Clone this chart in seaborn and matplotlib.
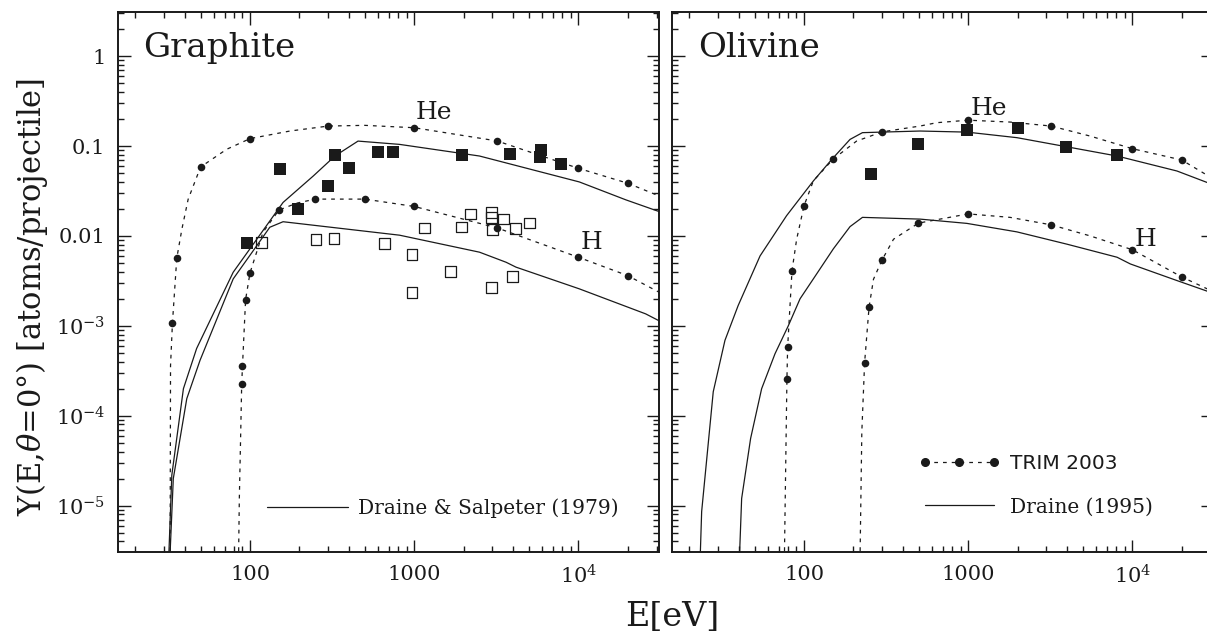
import numpy as np
import matplotlib
matplotlib.use("Agg")
import matplotlib.pyplot as plt
import seaborn as sns
from matplotlib.ticker import FixedLocator, FixedFormatter, LogLocator, NullFormatter
from matplotlib.lines import Line2D

# ---------------- data ----------------
# Graphite panel
gr_he_trim_E = [33.7, 35.8, 50, 100, 300, 1000, 3200, 10000, 20000]
gr_he_trim_Y = [1.08e-3, 5.65e-3, 0.0585, 0.121, 0.167, 0.160, 0.114, 0.0566, 0.0386]
gr_he_curve_E = [32.6, 32.8, 33.7, 35.8, 38.5, 42, 50, 72, 100, 175, 300, 500, 1000, 3200, 10000, 20000, 31000]
gr_he_curve_Y = [2e-6, 3.6e-4, 1.08e-3, 5.65e-3, 0.012, 0.0256, 0.0585, 0.092, 0.121, 0.147, 0.167, 0.170, 0.160, 0.114, 0.0566, 0.0386, 0.0279]

gr_h_trim_E = [89, 90, 94, 100, 150, 250, 500, 1000, 3200, 10000, 20000]
gr_h_trim_Y = [2.24e-4, 3.58e-4, 1.96e-3, 3.88e-3, 0.0194, 0.0257, 0.0257, 0.0213, 0.0123, 0.0058, 0.00362]
gr_h_curve_E = [85, 86.1, 87.8, 89, 90, 94, 100, 120, 150, 193, 250, 500, 1000, 3200, 10000, 20000, 31000]
gr_h_curve_Y = [2e-6, 1.2e-5, 6.6e-5, 2.24e-4, 3.58e-4, 1.96e-3, 3.88e-3, 0.011, 0.0194, 0.0232, 0.0257, 0.0257, 0.0213, 0.0123, 0.0058, 0.00362, 0.00237]

gr_he_exp_E = [96, 152, 195, 300, 330, 400, 600, 745, 1960, 3860, 5900, 5850, 7850]
gr_he_exp_Y = [0.0083, 0.0552, 0.0199, 0.0357, 0.0795, 0.0566, 0.0858, 0.0858, 0.0795, 0.0824, 0.0903, 0.0763, 0.0627]

gr_h_exp_E = [118, 252, 325, 662, 970, 970, 1160, 1670, 1950, 2200, 2970, 2970, 3010, 2970, 3500, 3990, 4140, 5020]
gr_h_exp_Y = [0.0084, 0.0091, 0.0093, 0.0083, 0.00625, 0.00237, 0.0123, 0.0040, 0.0126, 0.0175, 0.0181, 0.0161, 0.0119, 0.00269, 0.0154, 0.00353, 0.0122, 0.0139]

gr_he_ds_E = [31.8, 33.4, 39.3, 47.3, 79, 110, 159, 243, 329, 455, 815, 2500, 10140, 19500, 31000]
gr_he_ds_Y = [2e-6, 2.19e-5, 2.0e-4, 5.6e-4, 3.95e-3, 9.2e-3, 0.0236, 0.0465, 0.0775, 0.1136, 0.1044, 0.0775, 0.0399, 0.0252, 0.0187]
gr_h_ds_E = [32.3, 34.1, 41.2, 49.6, 79, 110, 132, 159, 815, 2500, 3630, 4170, 10140, 25700, 31000]
gr_h_ds_Y = [2e-6, 2.0e-5, 1.55e-4, 4.13e-4, 3.33e-3, 7.8e-3, 0.0125, 0.0144, 0.0102, 0.0066, 0.0051, 0.0045, 0.00258, 0.00136, 0.00114]

# Olivine panel
ol_he_trim_E = [78.7, 79.5, 84.5, 100, 150, 300, 1000, 3200, 10000, 20000]
ol_he_trim_Y = [2.57e-4, 5.8e-4, 4.1e-3, 0.0216, 0.0712, 0.144, 0.194, 0.167, 0.0935, 0.070]
ol_he_curve_E = [75.8, 78.7, 79.5, 84.5, 90.2, 100, 114, 150, 209, 300, 509, 644, 1000, 1800, 3200, 5550, 10000, 20000, 28600]
ol_he_curve_Y = [2e-6, 2.57e-4, 5.8e-4, 4.1e-3, 9.2e-3, 0.0216, 0.041, 0.0712, 0.1136, 0.144, 0.167, 0.182, 0.194, 0.185, 0.167, 0.129, 0.0935, 0.070, 0.0473]

ol_h_trim_E = [234, 249, 298, 498, 1000, 3200, 10000, 20000]
ol_h_trim_Y = [3.9e-4, 1.61e-3, 5.36e-3, 0.0139, 0.0176, 0.0133, 0.00703, 0.0035]
ol_h_curve_E = [219, 225, 234, 249, 265, 298, 351, 498, 1000, 1800, 3200, 5550, 10000, 20000, 28600]
ol_h_curve_Y = [2e-6, 6.6e-5, 3.9e-4, 1.61e-3, 3.3e-3, 5.36e-3, 9.2e-3, 0.0139, 0.0176, 0.0161, 0.0133, 0.010, 0.00703, 0.0035, 0.00258]

ol_he_exp_E = [255, 493, 982, 2020, 3950, 8070]
ol_he_exp_Y = [0.0486, 0.105, 0.150, 0.158, 0.0968, 0.0788]

ol_he_dr_E = [23.2, 23.8, 28, 33, 39.7, 54, 78.3, 114, 147.6, 190.7, 227, 509, 982, 1982, 3946, 8070, 18700, 28600]
ol_he_dr_Y = [2e-6, 8.6e-6, 1.85e-4, 6.9e-4, 1.68e-3, 6.0e-3, 0.0168, 0.0409, 0.071, 0.1186, 0.141, 0.147, 0.143, 0.124, 0.0985, 0.0775, 0.0528, 0.0393]
ol_h_dr_E = [40.2, 41.7, 47.3, 55.2, 66.6, 80.2, 94.6, 114, 151, 190.7, 227, 509, 982, 1982, 4000, 8070, 9730, 18700, 28600]
ol_h_dr_Y = [2e-6, 1.2e-5, 5.6e-5, 2.0e-4, 4.9e-4, 1.0e-3, 2.0e-3, 3.33e-3, 7.2e-3, 0.0127, 0.0161, 0.0154, 0.0138, 0.0111, 0.0081, 0.0058, 0.00488, 0.00319, 0.00243]

x_ticks = [100, 1000, 10000]
x_tick_labels = ["100", "1000", r"$10^4$"]
y_ticks = [1e-5, 1e-4, 1e-3, 1e-2, 1e-1, 1]
y_tick_labels = [r"$10^{-5}$", r"$10^{-4}$", r"$10^{-3}$", "0.01", "0.1", "1"]

# ---------------- style ----------------
sns.set_theme(style="ticks")
plt.rcParams["font.family"] = ["DejaVu Serif"]
plt.rcParams["mathtext.fontset"] = "dejavuserif"
for key in ["text.color", "axes.labelcolor", "xtick.color", "ytick.color", "axes.edgecolor"]:
    plt.rcParams[key] = "black"

DOT = (0, (3, 4))
LW = 0.9

fig = plt.figure(figsize=(12.07, 6.35), dpi=100)
axL = fig.add_axes([0.09776, 0.1307, 0.44822, 0.8504])
axR = fig.add_axes([0.55675, 0.1307, 0.44822, 0.8504])


def style_axes(ax, ylabels):
    ax.set_xscale("log")
    ax.set_yscale("log")
    ax.set_xlim(15.7, 31000)
    ax.set_ylim(3.05e-6, 3.1)
    ax.xaxis.set_major_locator(FixedLocator(x_ticks))
    ax.xaxis.set_major_formatter(FixedFormatter(x_tick_labels))
    ax.xaxis.set_minor_locator(LogLocator(base=10, subs=np.arange(2, 10), numticks=60))
    ax.xaxis.set_minor_formatter(NullFormatter())
    ax.yaxis.set_major_locator(FixedLocator(y_ticks))
    ax.yaxis.set_major_formatter(FixedFormatter(y_tick_labels))
    ax.yaxis.set_minor_locator(LogLocator(base=10, subs=np.arange(2, 10), numticks=60))
    ax.yaxis.set_minor_formatter(NullFormatter())
    ax.tick_params(which="both", direction="in", top=True, right=True,
                   color="k", labelcolor="k", width=1.0)
    ax.tick_params(which="major", length=9, labelsize=15, pad=9)
    ax.tick_params(which="minor", length=4.5)
    ax.tick_params(axis="y", labelleft=ylabels)
    for sp in ax.spines.values():
        sp.set_visible(True)
        sp.set_linewidth(1.4)
        sp.set_color("k")
    ax.set_xlabel("")
    ax.set_ylabel("")


def dotted(ax, E, Y):
    sns.lineplot(x=np.array(E), y=np.array(Y), ax=ax, color="k", lw=LW,
                 linestyle=DOT, sort=False, estimator=None, legend=False)


def solid(ax, E, Y):
    sns.lineplot(x=np.array(E), y=np.array(Y), ax=ax, color="k", lw=LW,
                 sort=False, estimator=None, legend=False)


def dots(ax, E, Y):
    sns.scatterplot(x=np.array(E), y=np.array(Y), ax=ax, marker="o", s=30,
                    color="k", linewidth=0, zorder=4, legend=False)


def filled_sq(ax, E, Y):
    sns.scatterplot(x=np.array(E), y=np.array(Y), ax=ax, marker="s", s=70,
                    color="k", linewidth=0, zorder=5, legend=False)


def open_sq(ax, E, Y):
    sns.scatterplot(x=np.array(E), y=np.array(Y), ax=ax, marker="s", s=60,
                    color="k", edgecolor="k", linewidth=0.9, zorder=5, legend=False)
    ax.collections[-1].set_facecolor("none")


# Graphite
dotted(axL, gr_he_curve_E, gr_he_curve_Y)
dotted(axL, gr_h_curve_E, gr_h_curve_Y)
solid(axL, gr_he_ds_E, gr_he_ds_Y)
solid(axL, gr_h_ds_E, gr_h_ds_Y)
dots(axL, gr_he_trim_E, gr_he_trim_Y)
dots(axL, gr_h_trim_E, gr_h_trim_Y)
filled_sq(axL, gr_he_exp_E, gr_he_exp_Y)
open_sq(axL, gr_h_exp_E, gr_h_exp_Y)

# Olivine
dotted(axR, ol_he_curve_E, ol_he_curve_Y)
dotted(axR, ol_h_curve_E, ol_h_curve_Y)
solid(axR, ol_he_dr_E, ol_he_dr_Y)
solid(axR, ol_h_dr_E, ol_h_dr_Y)
dots(axR, ol_he_trim_E, ol_he_trim_Y)
dots(axR, ol_h_trim_E, ol_h_trim_Y)
filled_sq(axR, ol_he_exp_E, ol_he_exp_Y)

style_axes(axL, True)
style_axes(axR, False)

# panel titles and curve labels
axL.text(0.046, 0.917, "Graphite", transform=axL.transAxes, fontsize=24.5,
         ha="left", va="baseline", color="k")
axR.text(0.048, 0.917, "Olivine", transform=axR.transAxes, fontsize=24.5,
         ha="left", va="baseline", color="k")
axL.text(1015, 0.198, "He", fontsize=18, ha="left", va="baseline", color="k")
axL.text(10290, 0.00716, "H", fontsize=18, ha="left", va="baseline", color="k")
axR.text(1028, 0.224, "He", fontsize=18, ha="left", va="baseline", color="k")
axR.text(10290, 0.00778, "H", fontsize=18, ha="left", va="baseline", color="k")

# legends
h_ds = Line2D([], [], color="k", lw=LW)
legL = axL.legend([h_ds], ["Draine & Salpeter (1979)"], loc="center left",
                  bbox_to_anchor=(0.2754, 0.082), frameon=False, handlelength=4.0,
                  handletextpad=0.5, borderpad=0, borderaxespad=0,
                  prop={"family": "DejaVu Serif", "size": 14.5})

h_trim = Line2D([], [], color="k", lw=LW, linestyle=DOT, marker="o", markersize=5.5)
h_dr = Line2D([], [], color="k", lw=LW)
legR = axR.legend([h_trim, h_dr], ["TRIM 2003", "Draine (1995)"], loc="center left",
                  bbox_to_anchor=(0.4566, 0.1237), frameon=False, handlelength=4.0,
                  handletextpad=0.5, borderpad=0, borderaxespad=0, numpoints=3,
                  labelspacing=1.2, prop={"family": "DejaVu Serif", "size": 14.5})
legR.get_texts()[0].set_family("DejaVu Sans")
for leg in (legL, legR):
    for t in leg.get_texts():
        t.set_color("k")

# axis labels
fig.text(0.0265, 0.532, r"Y(E,$\theta$=0°) [atoms/projectile]", rotation=90,
         fontsize=22, ha="center", va="center", color="k")
fig.text(0.5568, 0.0283, "E[eV]", fontsize=24, ha="center", va="center", color="k")

fig.savefig("out.png", dpi=100)
